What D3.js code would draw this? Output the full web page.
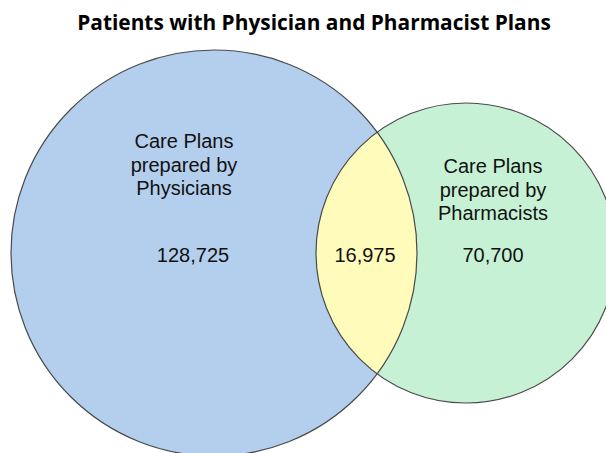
<!DOCTYPE html>
<meta charset="utf-8">
<style>
body { margin: 0; background: #fff; }
.title { font-family: "Liberation Sans Narrow", "Open Sans", sans-serif; font-weight: bold; }
.lbl { font-family: "Liberation Sans", Arial, sans-serif; font-size: 20px; fill: #111; }
</style>
<svg id="svg" width="606" height="453"></svg>
<script src="https://d3js.org/d3.v7.min.js"></script>
<script>

var title = "Patients with Physician and Pharmacist Plans";
var setNames = ["Physicians", "Pharmacists"];
var onlyCounts = [128725, 70700];
var overlapCount = 16975;
var setLabels = [
  ["Care Plans", "prepared by", "Physicians"],
  ["Care Plans", "prepared by", "Pharmacists"]
];
var fills = ["#b4cfee", "#c6f1d5"];
var overlapFill = "#fffbbb";

var svg = d3.select("svg");
var fmt = d3.format(",");

var totals = onlyCounts.map(function(d) { return d + overlapCount; });

// radius from set total
var r = d3.scaleLinear().domain([d3.min(totals), d3.max(totals)]).range([150, 203]);
var cy = 253;
var circles = [
  { x: 214, r: r(totals[0]) },
  { x: 466, r: r(totals[1]) }
];

svg.append("text")
    .attr("class", "title")
    .attr("x", 314).attr("y", 30)
    .attr("text-anchor", "middle")
    .style("font-size", "22px")
    .text(title)
    .each(function() {
      var w = this.getComputedTextLength();
      d3.select(this).style("font-size", (22 * 474 / w) + "px");
    });

var defs = svg.append("defs");
defs.append("clipPath").attr("id", "clipA")
  .append("circle").attr("cx", circles[0].x).attr("cy", cy).attr("r", circles[0].r);

svg.selectAll("circle.set")
  .data(circles)
  .enter().append("circle")
    .attr("class", "set")
    .attr("cx", function(d) { return d.x; })
    .attr("cy", cy)
    .attr("r", function(d) { return d.r; })
    .attr("fill", function(d, i) { return fills[i]; })
    .attr("stroke", "none");

// overlap lens
svg.append("circle")
    .attr("cx", circles[1].x).attr("cy", cy).attr("r", circles[1].r)
    .attr("clip-path", "url(#clipA)")
    .attr("fill", overlapFill);

svg.selectAll("circle.edge")
  .data(circles)
  .enter().append("circle")
    .attr("class", "edge")
    .attr("cx", function(d) { return d.x; })
    .attr("cy", cy)
    .attr("r", function(d) { return d.r; })
    .attr("fill", "none")
    .attr("stroke", "#4a4a4a")
    .attr("stroke-width", 1.2);

// labels
var labelPos = [{ x: 184, y: 148 }, { x: 493, y: 173 }];
var numPos = [{ x: 193, y: 262 }, { x: 493, y: 262 }];

labelPos.forEach(function(p, i) {
  var t = svg.append("text").attr("class", "lbl").attr("text-anchor", "middle");
  setLabels[i].forEach(function(line, j) {
    t.append("tspan").attr("x", p.x).attr("y", p.y + j * 23.5).text(line);
  });
  svg.append("text").attr("class", "lbl").attr("text-anchor", "middle")
    .attr("x", numPos[i].x).attr("y", numPos[i].y)
    .text(fmt(onlyCounts[i]));
});

svg.append("text").attr("class", "lbl").attr("text-anchor", "middle")
    .attr("x", 365).attr("y", 262)
    .text(fmt(overlapCount));

</script>
